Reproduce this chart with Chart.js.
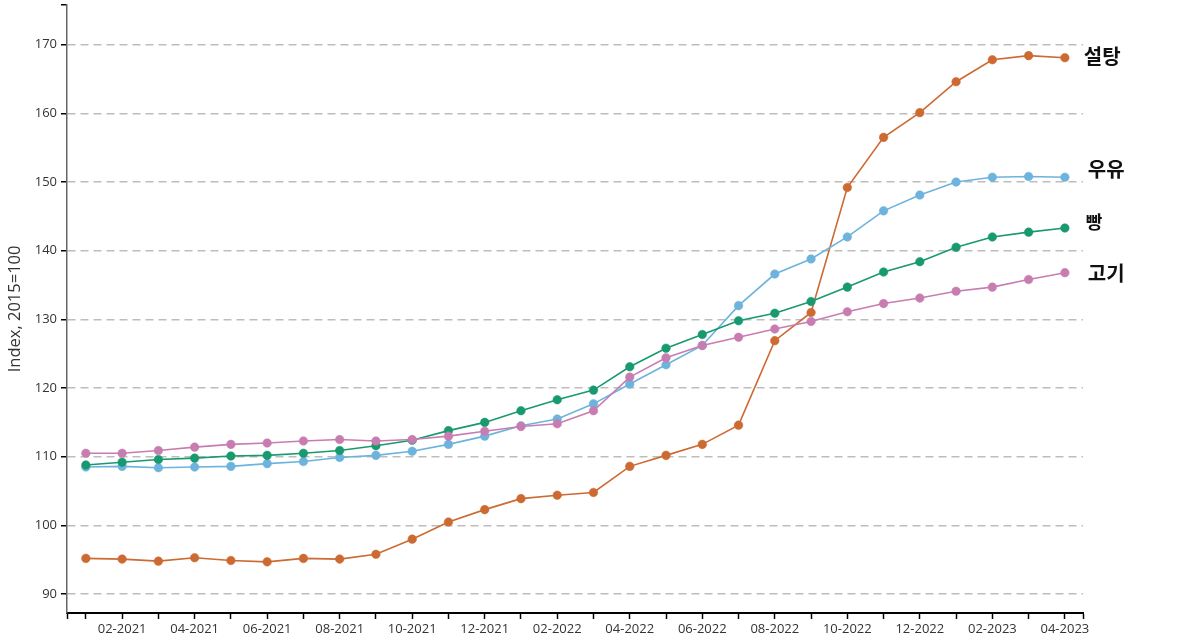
<!DOCTYPE html>
<html>
<head>
<meta charset="utf-8">
<script src="https://cdn.jsdelivr.net/npm/chart.js@4.4.0/dist/chart.umd.min.js"></script>
<style>
html,body{margin:0;padding:0;background:#fff;}
#wrap{width:1200px;height:644px;position:relative;}
</style>
</head>
<body>
<div id="wrap"><canvas id="c" width="1200" height="644"></canvas></div>
<script>
const months = ["01-2021","02-2021","03-2021","04-2021","05-2021","06-2021","07-2021","08-2021","09-2021","10-2021","11-2021","12-2021",
"01-2022","02-2022","03-2022","04-2022","05-2022","06-2022","07-2022","08-2022","09-2022","10-2022","11-2022","12-2022",
"01-2023","02-2023","03-2023","04-2023"];

const sugar = [95.2,95.1,94.8,95.3,94.9,94.7,95.2,95.1,95.8,98.0,100.5,102.3,103.9,104.4,104.8,108.6,110.2,111.8,114.6,126.9,131.0,149.2,156.5,160.1,164.6,167.8,168.4,168.1];
const milk  = [108.5,108.6,108.4,108.5,108.6,109.0,109.3,109.9,110.2,110.8,111.8,113.0,114.5,115.5,117.7,120.6,123.4,126.2,132.0,136.6,138.8,142.0,145.8,148.1,150.0,150.7,150.8,150.7];
const bread = [108.8,109.2,109.6,109.8,110.1,110.2,110.5,110.9,111.6,112.4,113.8,115.0,116.7,118.3,119.7,123.1,125.8,127.8,129.8,130.9,132.6,134.7,136.9,138.4,140.5,142.0,142.7,143.3];
const meat  = [110.5,110.5,110.9,111.4,111.8,112.0,112.3,112.5,112.3,112.5,113.0,113.7,114.4,114.8,116.7,121.6,124.4,126.2,127.4,128.6,129.7,131.1,132.3,133.1,134.1,134.7,135.8,136.8];

const seriesNames = ["설탕","우유","빵","고기"];
const yTicks = [90,100,110,120,130,140,150,160,170];
const yTitle = "Index, 2015=100";

const colors = ["#CD6A32","#6DB3DD","#18996F","#C87DB1"];
const labelStyle = [
  {dx:19, dy:-1, size:20},
  {dx:23, dy:-8, size:20},
  {dx:21, dy:-6, size:18},
  {dx:23, dy:1, size:20}
];

const X_MIN = -0.52, X_MAX = 27.5, Y_MIN = 87.25, Y_MAX = 175.8;

function toPts(arr){ return arr.map((v,i)=>({x:i,y:v})); }
const allSeries = [sugar, milk, bread, meat];

const endLabels = {
  id:'endLabels',
  afterDatasetsDraw(chart){
    const ctx = chart.ctx;
    const xs = chart.scales.x, ys = chart.scales.y;
    ctx.save();
    ctx.fillStyle = '#111';
    ctx.textBaseline = 'middle';
    ctx.textAlign = 'left';
    allSeries.forEach((arr, i)=>{
      const last = arr.length-1;
      const st = labelStyle[i];
      ctx.font = 'bold ' + st.size + 'px "Noto Sans CJK KR", "Noto Sans", sans-serif';
      ctx.fillText(seriesNames[i], xs.getPixelForValue(last) + st.dx, ys.getPixelForValue(arr[last]) + st.dy);
    });
    ctx.restore();
  }
};

const tickFont = {family:'"Open Sans", "Noto Sans", sans-serif', size:13};

new Chart(document.getElementById('c'), {
  type:'line',
  data:{
    datasets: allSeries.map((arr,i)=>({
      label: seriesNames[i],
      data: toPts(arr),
      borderColor: colors[i],
      backgroundColor: colors[i],
      pointBackgroundColor: colors[i],
      pointBorderColor: colors[i],
      borderWidth: 1.6,
      pointRadius: 4.3,
      pointBorderWidth: 0.5,
      tension: 0,
      fill:false
    })).reverse()
  },
  options:{
    responsive:false,
    animation:false,
    devicePixelRatio:1,
    layout:{padding:{top:3,right:117,left:0,bottom:0}},
    plugins:{legend:{display:false}, tooltip:{enabled:false}},
    scales:{
      x:{
        type:'linear',
        min:X_MIN, max:X_MAX,
        afterBuildTicks(scale){
          const t = [{value:X_MIN}];
          months.forEach((m,i)=>t.push({value:i}));
          t.push({value:X_MAX});
          scale.ticks = t;
        },
        afterFit(scale){ scale.height = 31; scale.paddingLeft = 0; scale.paddingRight = 0; },
        ticks:{
          autoSkip:false, maxRotation:0, minRotation:0,
          color:'#333', font:tickFont, padding:2,
          callback(v){ return (Number.isInteger(v) && v%2===1) ? months[v] : ''; }
        },
        grid:{drawOnChartArea:false, drawTicks:true, tickLength:6, tickColor:'#000', tickWidth:1.5},
        border:{display:true, color:'#000', width:2}
      },
      y:{
        min:Y_MIN, max:Y_MAX,
        afterBuildTicks(scale){
          scale.ticks = [{value:Y_MIN}].concat(yTicks.map(v=>({value:v}))).concat([{value:Y_MAX}]);
        },
        afterFit(scale){ scale.width = 67; scale.paddingTop = 0; scale.paddingBottom = 0; },
        ticks:{
          color:'#333', font:tickFont, padding:4,
          callback(v){ return yTicks.includes(v) ? String(v) : ''; }
        },
        grid:{
          drawTicks:true, tickLength:6, tickWidth:1.5,
          color(ctx){ return (ctx.tick && yTicks.includes(ctx.tick.value)) ? '#bdbdbd' : 'rgba(0,0,0,0)'; },
          tickColor(ctx){ return (ctx.tick && ctx.tick.value === Y_MIN) ? 'rgba(0,0,0,0)' : '#000'; },
          lineWidth:1.5
        },
        border:{display:true, color:'#666', width:1.5, dash:[8,5]},
        title:{display:true, text:yTitle, color:'#333', font:{family:'"Open Sans", "Noto Sans", sans-serif', size:16.5}, padding:{top:5,bottom:0}}
      }
    }
  },
  plugins:[endLabels]
});
</script>
</body>
</html>
